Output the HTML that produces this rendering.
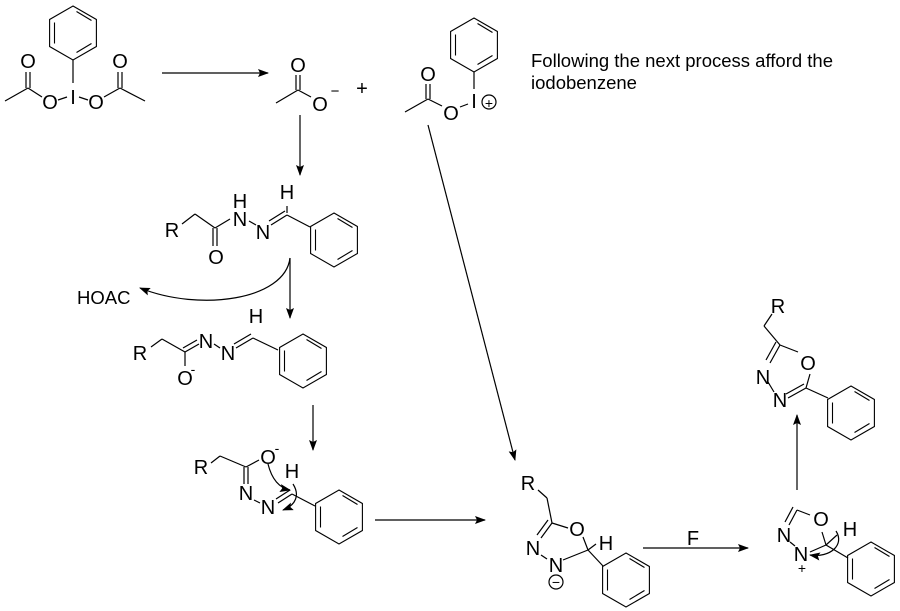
<!DOCTYPE html>
<html><head><meta charset="utf-8"><style>
body{margin:0;background:#fff;}
svg{display:block}
text{font-family:"Liberation Sans",Arial,sans-serif;fill:#000;}
</style></head><body>
<svg width="900" height="611" viewBox="0 0 900 611" xmlns="http://www.w3.org/2000/svg">
<defs>
<g id="bz" fill="none" stroke="#000" stroke-width="1.1">
<polygon points="0,-27 23.4,-13.5 23.4,13.5 0,27 -23.4,13.5 -23.4,-13.5"/>
<line x1="3.5" y1="-21.5" x2="18.5" y2="-12.5"/>
<line x1="18.5" y1="10.5" x2="3.5" y2="19.5"/>
<line x1="-18.5" y1="10.5" x2="-18.5" y2="-10.5"/>
</g>
<marker id="ah" markerWidth="11" markerHeight="8" refX="10" refY="4" orient="auto" markerUnits="userSpaceOnUse">
<path d="M0,0 L11,4 L0,8 L2,4 Z" fill="#000"/></marker>
</defs>
<g stroke="#000" stroke-width="1.2" fill="none">
<use href="#bz" transform="translate(73,33)"/>
<line x1="73" y1="60" x2="73" y2="83"/>
<line x1="67" y1="97" x2="58" y2="100"/><line x1="79" y1="97" x2="88" y2="100"/>
<line x1="42" y1="97" x2="28" y2="88"/><line x1="28" y1="88" x2="5" y2="101"/>
<line x1="26" y1="88" x2="26" y2="72"/><line x1="30" y1="88" x2="30" y2="72"/>
<line x1="104" y1="97" x2="120" y2="88"/><line x1="120" y1="88" x2="145" y2="101"/>
<line x1="118" y1="88" x2="118" y2="72"/><line x1="122" y1="88" x2="122" y2="72"/>
<line x1="162" y1="73" x2="268" y2="73" marker-end="url(#ah)"/>
<line x1="276" y1="103" x2="298" y2="90"/><line x1="298" y1="90" x2="311" y2="97"/>
<line x1="296" y1="90" x2="296" y2="75"/><line x1="300" y1="90" x2="300" y2="75"/>
<use href="#bz" transform="translate(474,45)"/>
<line x1="474" y1="72" x2="474" y2="89"/>
<line x1="405" y1="112" x2="428" y2="99"/><line x1="428" y1="99" x2="442" y2="106"/>
<line x1="460" y1="107" x2="468" y2="104"/>
<line x1="426" y1="99" x2="426" y2="84"/><line x1="430" y1="99" x2="430" y2="84"/>
<circle cx="489" cy="102" r="7"/>
<line x1="300" y1="115" x2="300" y2="175" marker-end="url(#ah)"/>
<line x1="428" y1="125" x2="515" y2="460" marker-end="url(#ah)"/>
<line x1="182" y1="224" x2="195" y2="214"/><line x1="195" y1="214" x2="215" y2="228"/>
<line x1="213" y1="228" x2="213" y2="246"/><line x1="217" y1="228" x2="217" y2="246"/>
<line x1="215" y1="228" x2="230" y2="219"/>
<line x1="249" y1="221" x2="256" y2="225"/>
<line x1="271" y1="225" x2="287" y2="215"/><line x1="269" y1="221" x2="285" y2="211"/>
<line x1="287" y1="213" x2="287" y2="206"/>
<line x1="287" y1="215" x2="310" y2="227"/>
<use href="#bz" transform="translate(334,240)"/>
<path d="M290,258 C285,300 200,312 140,288" marker-end="url(#ah)"/>
<line x1="290" y1="258" x2="290" y2="318" marker-end="url(#ah)"/>
<line x1="151" y1="347" x2="162" y2="339"/><line x1="162" y1="339" x2="185" y2="352"/>
<line x1="185" y1="352" x2="185" y2="366"/>
<line x1="185" y1="352" x2="199" y2="344"/><line x1="183" y1="348" x2="197" y2="340"/>
<line x1="214" y1="344" x2="220" y2="348"/>
<line x1="236" y1="348" x2="253" y2="338"/><line x1="234" y1="344" x2="251" y2="334"/>
<line x1="253" y1="338" x2="278" y2="350"/>
<use href="#bz" transform="translate(303,361)"/>
<line x1="313" y1="405" x2="313" y2="450" marker-end="url(#ah)"/>
<line x1="211" y1="463" x2="220" y2="456"/><line x1="220" y1="456" x2="246" y2="467"/>
<line x1="246" y1="467" x2="259" y2="460"/>
<line x1="244" y1="467" x2="244" y2="484"/><line x1="248" y1="467" x2="248" y2="484"/>
<line x1="254" y1="500" x2="260" y2="503"/>
<line x1="278" y1="503" x2="292" y2="494"/><line x1="276" y1="499" x2="290" y2="490"/>
<line x1="292" y1="494" x2="315" y2="506"/>
<use href="#bz" transform="translate(339,517)"/>
<path d="M268,464 C272,480 280,488 290,490" marker-end="url(#ah)"/>
<path d="M293,484 C300,495 296,505 283,510" marker-end="url(#ah)"/>
<line x1="375" y1="520" x2="485" y2="520" marker-end="url(#ah)"/>
<line x1="538" y1="490" x2="547" y2="498"/><line x1="547" y1="498" x2="552" y2="523"/>
<line x1="552" y1="523" x2="568" y2="528"/>
<line x1="552" y1="523" x2="541" y2="538"/><line x1="548" y1="520" x2="537" y2="535"/>
<line x1="541" y1="555" x2="547" y2="559"/>
<line x1="563" y1="560" x2="588" y2="550"/><line x1="588" y1="550" x2="583" y2="537"/>
<line x1="588" y1="550" x2="596" y2="544"/>
<line x1="588" y1="550" x2="603" y2="566"/>
<circle cx="556" cy="582" r="7"/>
<use href="#bz" transform="translate(626,580)"/>
<line x1="643" y1="548" x2="748" y2="548" marker-end="url(#ah)"/>
<line x1="797" y1="510" x2="810" y2="515"/>
<line x1="797" y1="510" x2="789" y2="525"/><line x1="793" y1="507" x2="785" y2="522"/>
<line x1="790" y1="542" x2="795" y2="546"/>
<line x1="810" y1="552" x2="826" y2="545"/><line x1="826" y1="545" x2="822" y2="532"/>
<line x1="826" y1="545" x2="837" y2="535"/><line x1="826" y1="545" x2="848" y2="558"/>
<path d="M836,531 C845,545 830,558 810,555" marker-end="url(#ah)"/>
<use href="#bz" transform="translate(871,569)"/>
<line x1="797" y1="490" x2="797" y2="415" marker-end="url(#ah)"/>
<line x1="772" y1="314" x2="764" y2="326"/><line x1="764" y1="326" x2="780" y2="345"/>
<line x1="780" y1="345" x2="798" y2="352"/>
<line x1="780" y1="345" x2="770" y2="363"/><line x1="776" y1="342" x2="766" y2="360"/>
<line x1="768" y1="382" x2="774" y2="392"/>
<line x1="788" y1="398" x2="806" y2="388"/><line x1="786" y1="394" x2="804" y2="384"/>
<line x1="806" y1="388" x2="810" y2="374"/>
<line x1="806" y1="388" x2="828" y2="398"/>
<use href="#bz" transform="translate(851,413)"/>
</g>
<g text-anchor="middle" style="font-size:20px">
<text x="73" y="104">I</text>
<text x="50" y="109">O</text><text x="96" y="109">O</text>
<text x="28" y="68">O</text><text x="120" y="68">O</text>
<text x="298" y="72">O</text><text x="320" y="111">O</text><text x="335" y="96" style="font-size:15px">−</text>
<text x="362" y="95">+</text>
<text x="428" y="81">O</text><text x="451" y="120">O</text><text x="474" y="108">I</text>
<text x="489" y="108" style="font-size:14px">+</text>
<text x="172" y="237">R</text><text x="216" y="264">O</text>
<text x="240" y="226">N</text><text x="240" y="208">H</text>
<text x="263" y="239">N</text><text x="287" y="199">H</text>
<text x="140" y="360">R</text><text x="185" y="385">O</text><text x="193" y="374" style="font-size:14px">-</text>
<text x="206" y="348">N</text><text x="228" y="360">N</text><text x="256" y="323">H</text>
<text x="201" y="474">R</text><text x="268" y="464">O</text><text x="277" y="453" style="font-size:14px">-</text>
<text x="246" y="500">N</text><text x="268" y="514">N</text><text x="292" y="478">H</text>
<text x="528" y="490">R</text><text x="577" y="536">O</text><text x="533" y="555">N</text>
<text x="556" y="572">N</text><text x="556" y="587" style="font-size:14px">−</text><text x="606" y="550">H</text>
<text x="693" y="545">F</text>
<text x="821" y="526">O</text><text x="784" y="542">N</text><text x="801" y="561">N</text>
<text x="802" y="573" style="font-size:14px">+</text><text x="850" y="536">H</text>
<text x="778" y="313">R</text><text x="808" y="370">O</text><text x="763" y="384">N</text><text x="780" y="407">N</text>
</g>
<text x="77" y="304" style="font-size:18.5px">HOAC</text>
<text x="531" y="67" style="font-size:18.5px">Following the next process afford the</text>
<text x="531" y="89" style="font-size:18.5px">iodobenzene</text>
</svg>
</body></html>
